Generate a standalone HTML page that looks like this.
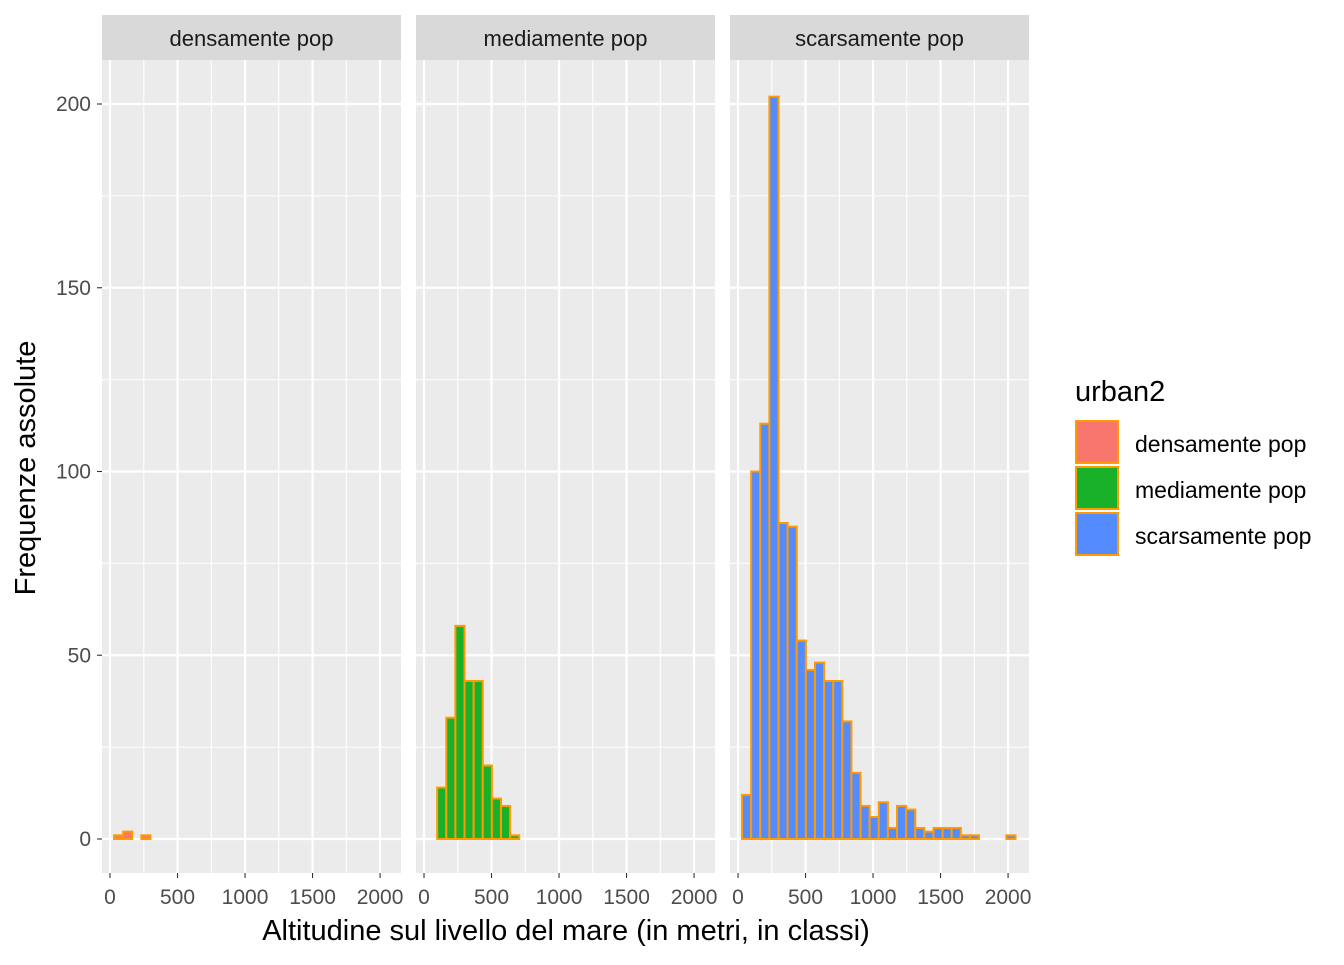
<!DOCTYPE html>
<html><head><meta charset="utf-8"><style>
body{margin:0;background:#fff;}
svg text{font-family:"Liberation Sans",Arial,sans-serif;}
</style></head><body>
<svg id="chart" width="1344" height="960" xmlns="http://www.w3.org/2000/svg">
<rect width="1344" height="960" fill="#fff"/>
<g id="panels"></g>
<text x="35" y="468" transform="rotate(-90 35 468)" text-anchor="middle" font-size="29" fill="#000">Frequenze assolute</text>
<text x="566" y="940" text-anchor="middle" font-size="29" fill="#000">Altitudine sul livello del mare (in metri, in classi)</text>
<g>
<text x="1075" y="401" font-size="29" fill="#000">urban2</text>
<g><rect x="1076" y="421" width="42" height="42" fill="#F8766D" stroke="#FF9A00" stroke-width="2"/><text x="1135" y="452" font-size="23" fill="#000">densamente pop</text></g>
<g><rect x="1076" y="467" width="42" height="42" fill="#19B12A" stroke="#FF9A00" stroke-width="2"/><text x="1135" y="498" font-size="23" fill="#000">mediamente pop</text></g>
<g><rect x="1076" y="513" width="42" height="42" fill="#548BFF" stroke="#FF9A00" stroke-width="2"/><text x="1135" y="544" font-size="23" fill="#000">scarsamente pop</text></g>
</g>
</svg>
<script>
const panelNames = ["densamente pop","mediamente pop","scarsamente pop"];
const binStart = 30;
const binWidth = 67.5;
const countsDensamente = [1,2,0,1,0,0,0,0,0,0,0,0,0,0,0,0,0,0,0,0,0,0,0,0,0,0,0,0,0,0];
const countsMediamente = [0,14,33,58,43,43,20,11,9,1,0,0,0,0,0,0,0,0,0,0,0,0,0,0,0,0,0,0,0,0];
const countsScarsamente = [12,100,113,202,86,85,54,46,48,43,43,32,18,9,6,10,3,9,8,3,2,3,3,3,1,1,0,0,0,1];
const yTicks = [0,50,100,150,200];
const xTicks = [0,500,1000,1500,2000];
const allCounts = [countsDensamente,countsMediamente,countsScarsamente];
const fills = ["#F8766D","#19B12A","#548BFF"];
const NS="http://www.w3.org/2000/svg";
const panelLeft=[102,416,730], panelW=299, pTop=60, pBottom=873;
const xMin=-59.3, xMax=2155;
const yScale = v => 839 - v*3.675;
function mk(tag,attrs,parent){const e=document.createElementNS(NS,tag);for(const k in attrs)e.setAttribute(k,attrs[k]);parent.appendChild(e);return e;}
const root=document.getElementById("panels");
panelNames.forEach((name,p)=>{
  const L=panelLeft[p];
  const xScale = v => L + (v-xMin)/(xMax-xMin)*panelW;
  const g=mk("g",{},root);
  
  
  mk("rect",{x:L,y:pTop,width:panelW,height:pBottom-pTop,fill:"#EBEBEB"},g);
  yTicks.slice(0,-1).forEach((t,i)=>{const y=yScale((t+yTicks[i+1])/2);mk("line",{x1:L,x2:L+panelW,y1:y,y2:y,stroke:"#fff","stroke-width":1.1},g);});
  xTicks.slice(0,-1).forEach((t,i)=>{const x=xScale((t+xTicks[i+1])/2);mk("line",{x1:x,x2:x,y1:pTop,y2:pBottom,stroke:"#fff","stroke-width":1.1},g);});
  yTicks.forEach(t=>{const y=yScale(t);mk("line",{x1:L,x2:L+panelW,y1:y,y2:y,stroke:"#fff","stroke-width":2.2},g);});
  xTicks.forEach(t=>{const x=xScale(t);mk("line",{x1:x,x2:x,y1:pTop,y2:pBottom,stroke:"#fff","stroke-width":2.2},g);
    mk("line",{x1:x,x2:x,y1:pBottom,y2:pBottom+5,stroke:"#333","stroke-width":1.1},g);
    const tx=mk("text",{x:x,y:pBottom+31,"text-anchor":"middle","font-size":"21",fill:"#4D4D4D"},g);tx.textContent=t;
    
    });
  allCounts[p].forEach((c,i)=>{
    const x0=xScale(binStart+i*binWidth), x1=xScale(binStart+(i+1)*binWidth);
    const r=mk("rect",{x:x0,y:yScale(c),width:x1-x0,height:yScale(0)-yScale(c),fill:fills[p],stroke:"#FF9A00","stroke-width":2},g);
    
    
  });
  const s=mk("rect",{x:L,y:15,width:panelW,height:45,fill:"#D9D9D9"},g);
  
  
  const st=mk("text",{x:L+panelW/2,y:46,"text-anchor":"middle","font-size":"22",fill:"#1A1A1A"},g);st.textContent=name;
  
  
});
yTicks.forEach(t=>{const y=yScale(t);
  mk("line",{x1:97,x2:102,y1:y,y2:y,stroke:"#333","stroke-width":1.1},root);
  const tx=mk("text",{x:91,y:y+7,"text-anchor":"end","font-size":"21",fill:"#4D4D4D"},root);tx.textContent=t;
  
  });
</script>
</body></html>
